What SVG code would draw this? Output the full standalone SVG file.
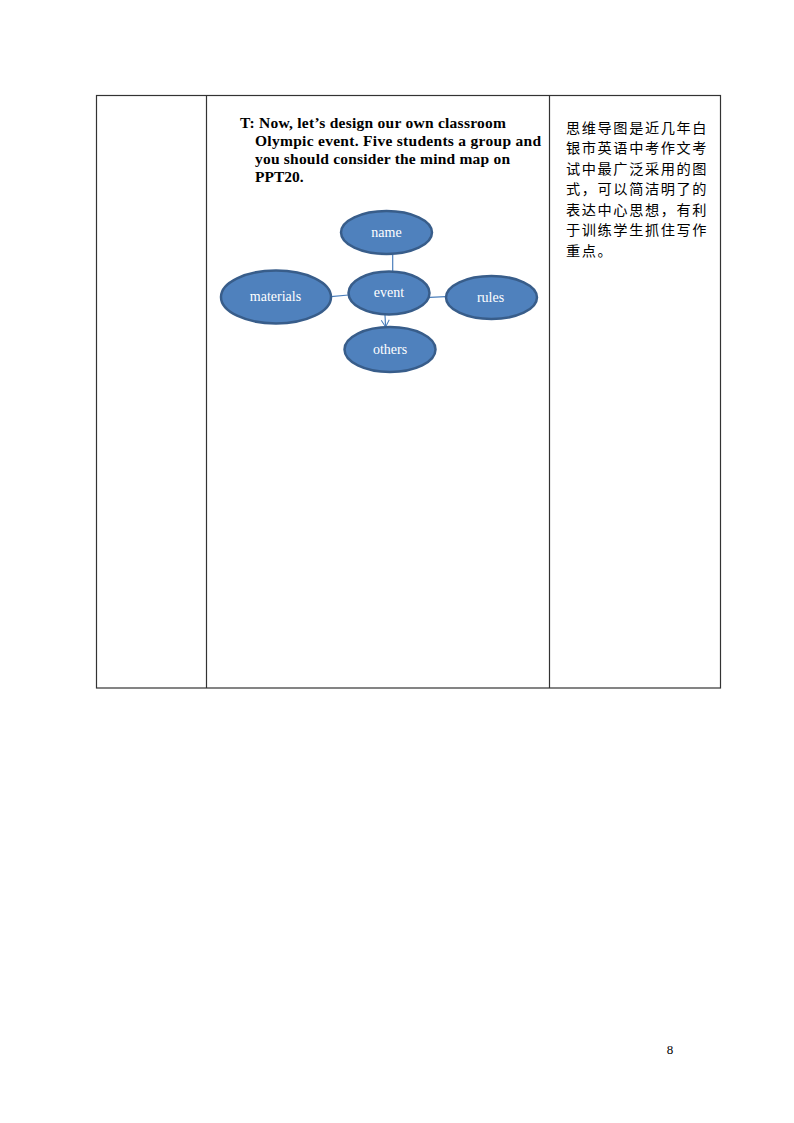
<svg xmlns="http://www.w3.org/2000/svg" width="794" height="1123" viewBox="0 0 794 1123">
<defs>
<style>
.grid{stroke:#333;stroke-width:1.2;fill:none}
.node{fill:#4f81bd;stroke:#385d8a;stroke-width:2.5}
.lbl{font-family:"Liberation Serif","Times New Roman",serif;font-size:14px;fill:#fff;text-anchor:middle}
.edge{stroke:#4a7ebb;stroke-width:1.2;fill:none}
.en{font-family:"Liberation Serif","Times New Roman",serif;font-size:15.5px;font-weight:bold;fill:#000}
.zh{font-family:"Noto Sans CJK SC","Noto Sans",sans-serif;font-size:14.2px;letter-spacing:1.6px;fill:#000}
</style>
<marker id="arr" markerWidth="10" markerHeight="10" refX="8" refY="5" orient="auto" markerUnits="userSpaceOnUse">
<path d="M1,1 L8,5 L1,9" fill="none" stroke="#4a7ebb" stroke-width="1"/>
</marker>
</defs>
<rect width="794" height="1123" fill="#fff"/>
<g id="table">
<rect class="grid" x="96.5" y="95.5" width="624" height="592.5"/>
<line class="grid" x1="206.5" y1="95.5" x2="206.5" y2="688"/>
<line class="grid" x1="549.5" y1="95.5" x2="549.5" y2="688"/>
</g>
<g id="instruction">
<text class="en" x="240" y="128" textLength="266" lengthAdjust="spacing">T: Now, let’s design our own classroom</text>
<text class="en" x="255" y="146" textLength="286" lengthAdjust="spacing">Olympic event. Five students a group and</text>
<text class="en" x="255" y="163.5" textLength="255" lengthAdjust="spacing">you should consider the mind map on</text>
<text class="en" x="255" y="181.5">PPT20.</text>
</g>
<g id="connectors">
<line class="edge" x1="392.7" y1="254" x2="392.7" y2="271"/>
<line class="edge" x1="331" y1="296.7" x2="348.5" y2="295"/>
<line class="edge" x1="430" y1="297.3" x2="445.5" y2="296.7"/>
<line class="edge" x1="385" y1="315" x2="385.6" y2="327" marker-end="url(#arr)"/>
</g>
<g id="node-name">
<ellipse class="node" cx="386.5" cy="232.5" rx="45.5" ry="21.5"/>
<text class="lbl" x="386.5" y="237">name</text>
</g>
<g id="node-materials">
<ellipse class="node" cx="276" cy="297" rx="55" ry="26.5"/>
<text class="lbl" x="275.5" y="301">materials</text>
</g>
<g id="node-event">
<ellipse class="node" cx="389" cy="293" rx="40.5" ry="21.5"/>
<text class="lbl" x="389" y="297">event</text>
</g>
<g id="node-rules">
<ellipse class="node" cx="491.5" cy="297.5" rx="45.5" ry="21.5"/>
<text class="lbl" x="490.5" y="301.5">rules</text>
</g>
<g id="node-others">
<ellipse class="node" cx="390" cy="349.5" rx="45.5" ry="22.5"/>
<text class="lbl" x="390" y="354">others</text>
</g>
<g id="commentary">
<text class="zh" x="566" y="132.5">思维导图是近几年白</text>
<text class="zh" x="566" y="153">银市英语中考作文考</text>
<text class="zh" x="566" y="173.5">试中最广泛采用的图</text>
<text class="zh" x="566" y="194">式，可以简洁明了的</text>
<text class="zh" x="566" y="214.5">表达中心思想，有利</text>
<text class="zh" x="566" y="235">于训练学生抓住写作</text>
<text class="zh" x="566" y="255.5">重点。</text>
</g>
<text x="670" y="1054" font-family="Liberation Serif,serif" font-size="13px" text-anchor="middle" fill="#000">8</text>
</svg>
